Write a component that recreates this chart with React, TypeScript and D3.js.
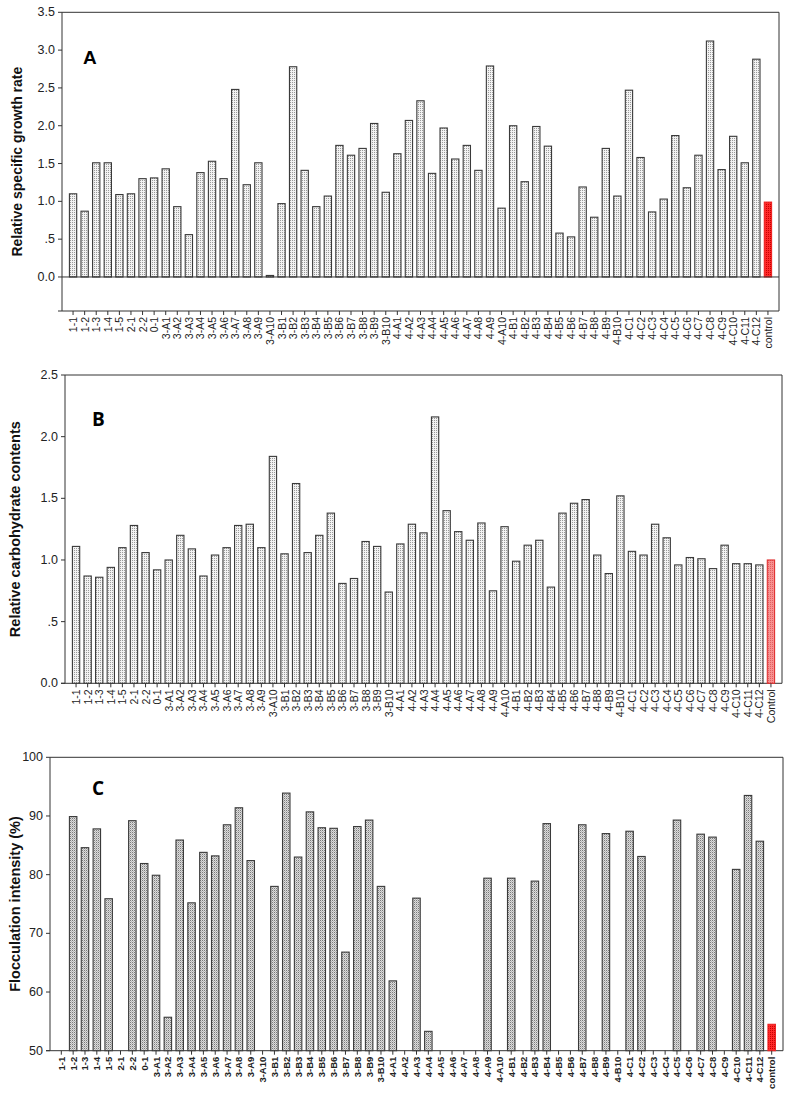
import React from "react";
import * as d3 from "d3";

const strains = [
  "1-1","1-2","1-3","1-4","1-5","2-1","2-2","0-1",
  "3-A1","3-A2","3-A3","3-A4","3-A5","3-A6","3-A7","3-A8","3-A9","3-A10",
  "3-B1","3-B2","3-B3","3-B4","3-B5","3-B6","3-B7","3-B8","3-B9","3-B10",
  "4-A1","4-A2","4-A3","4-A4","4-A5","4-A6","4-A7","4-A8","4-A9","4-A10",
  "4-B1","4-B2","4-B3","4-B4","4-B5","4-B6","4-B7","4-B8","4-B9","4-B10",
  "4-C1","4-C2","4-C3","4-C4","4-C5","4-C6","4-C7","4-C8","4-C9","4-C10","4-C11","4-C12",
];
const categoriesA = [...strains, "control"];
const categoriesB = [...strains, "Control"];
const categoriesC = [...strains, "control"];

const growthRate = [
  1.10,0.87,1.51,1.51,1.09,1.10,1.30,1.31,
  1.43,0.93,0.56,1.38,1.53,1.30,2.48,1.22,1.51,0.02,
  0.97,2.78,1.41,0.93,1.07,1.74,1.61,1.70,2.03,1.12,
  1.63,2.07,2.33,1.37,1.97,1.56,1.74,1.41,2.79,0.91,
  2.00,1.26,1.99,1.73,0.58,0.53,1.19,0.79,1.70,1.07,
  2.47,1.58,0.86,1.03,1.87,1.18,1.61,3.12,1.42,1.86,1.51,2.88,
  0.99,
];

const carbohydrate = [
  1.11,0.87,0.86,0.94,1.10,1.28,1.06,0.92,
  1.00,1.20,1.09,0.87,1.04,1.10,1.28,1.29,1.10,1.84,
  1.05,1.62,1.06,1.20,1.38,0.81,0.85,1.15,1.11,0.74,
  1.13,1.29,1.22,2.16,1.40,1.23,1.16,1.30,0.75,1.27,
  0.99,1.12,1.16,0.78,1.38,1.46,1.49,1.04,0.89,1.52,
  1.07,1.04,1.29,1.18,0.96,1.02,1.01,0.93,1.12,0.97,0.97,0.96,
  1.00,
];

const flocculation: (number | null)[] = [
  null,89.9,84.6,87.8,75.9,null,89.2,81.9,
  79.9,55.7,85.9,75.2,83.8,83.2,88.5,91.4,82.4,null,
  78.0,93.9,83.0,90.7,88.0,87.9,66.8,88.2,89.3,78.0,
  61.9,null,76.0,53.3,null,null,null,null,79.4,null,
  79.4,null,78.9,88.7,null,null,88.5,null,87.0,null,
  87.4,83.1,null,null,89.3,null,86.9,86.4,null,80.9,93.5,85.7,
  54.5,
];

const ticksA = [0, 0.5, 1, 1.5, 2, 2.5, 3, 3.5];
const ticksB = [0, 0.5, 1, 1.5, 2, 2.5];
const ticksC = [50, 60, 70, 80, 90, 100];

const fmt = (v: number) => (v === 0.5 ? ".5" : d3.format(".1f")(v));

type PanelProps = {
  cats: string[];
  values: (number | null)[];
  x0: number; x1: number; yTop: number; yBottom: number;
  domain: [number, number];
  baseline: number;
  ticks: number[];
  tickFmt: (v: number) => string;
  title: string;
  titleX: number;
  titleSize: number;
  letter: string; letterX: number; letterY: number; letterFont: string;
  fill: string; controlFill: string; controlStroke: string;
  boldLabels?: boolean;
  zeroLine?: boolean;
  labelSize: number;
};

function Panel(p: PanelProps) {
  const x = d3.scaleBand<string>().domain(p.cats).range([p.x0, p.x1]).paddingInner(0.37).paddingOuter(0.64);
  const y = d3.scaleLinear().domain(p.domain).range([p.yBottom, p.yTop]);
  const bw = x.bandwidth();
  const n = p.cats.length;
  const axisY = p.yBottom;
  return (
    <g>
      <line x1={p.x0} x2={p.x1} y1={p.yTop} y2={p.yTop} stroke="#333" strokeWidth={1} />
      <line x1={p.x1} x2={p.x1} y1={p.yTop} y2={p.yBottom} stroke="#333" strokeWidth={1} />
      <line x1={p.x0} x2={p.x0} y1={p.yTop} y2={p.yBottom} stroke="#333" strokeWidth={1} />
      <line x1={p.x0 - 4} x2={p.x1} y1={p.yBottom} y2={p.yBottom} stroke="#333" strokeWidth={1} />
      {p.ticks.map((t) => (
        <g key={"t" + t}>
          <line x1={p.x0 - 4} x2={p.x0} y1={y(t)} y2={y(t)} stroke="#333" />
          <text x={p.x0 - 7} y={y(t)} textAnchor="end" dominantBaseline="central" fontSize={12.5} fontFamily="Liberation Sans, Arial, sans-serif" fill="#222">
            {p.tickFmt(t)}
          </text>
        </g>
      ))}
      {p.values.map((v, i) => {
        if (v === null || v === undefined) return null;
        const c = p.cats[i];
        const isCtrl = i === n - 1;
        const yt = y(Math.max(v, p.baseline));
        const yb = y(p.baseline);
        return (
          <rect key={"b" + i} x={x(c)} y={yt} width={bw} height={Math.max(0.5, yb - yt)}
            fill={isCtrl ? p.controlFill : p.fill}
            stroke={isCtrl ? p.controlStroke : "#3a3a3a"} strokeWidth={1.1} />
        );
      })}
      {p.zeroLine && <line x1={p.x0} x2={p.x1} y1={y(0)} y2={y(0)} stroke="#333" strokeWidth={1} />}
      {p.cats.map((c) => {
        const cx = (x(c) as number) + bw / 2;
        return (
          <g key={"x" + c}>
            <line x1={cx} x2={cx} y1={axisY} y2={axisY + 4} stroke="#333" />
            <text transform={`translate(${cx},${axisY + 6}) rotate(-90)`} textAnchor="end" dominantBaseline="central"
              fontSize={p.labelSize} fontWeight={p.boldLabels ? "bold" : "normal"} fontFamily="Liberation Sans, Arial, sans-serif" fill="#222">
              {c}
            </text>
          </g>
        );
      })}
      <text transform={`translate(${p.titleX},${(p.yTop + p.yBottom) / 2}) rotate(-90)`} textAnchor="middle" dominantBaseline="central"
        fontSize={p.titleSize} fontWeight="bold" fontFamily="Liberation Sans, Arial, sans-serif" fill="#111">
        {p.title}
      </text>
      <text x={p.letterX} y={p.letterY} fontSize={19} fontWeight="bold" fontFamily={p.letterFont} fill="#000">
        {p.letter}
      </text>
    </g>
  );
}

export default function App() {
  return (
    <svg width={792} height={1103} style={{ position: "absolute", left: 0, top: 0, background: "#fff" }}>
      <defs>
        <pattern id="dotsA" width={2} height={2} patternUnits="userSpaceOnUse">
          <rect width={2} height={2} fill="#f2f2f2" />
          <rect width={1} height={1} fill="#9a9a9a" />
        </pattern>
        <pattern id="dotsC" width={2} height={2} patternUnits="userSpaceOnUse">
          <rect width={2} height={2} fill="#dcdcdc" />
          <rect width={1} height={1} fill="#7a7a7a" />
          <rect x={1} y={1} width={1} height={1} fill="#b5b5b5" />
        </pattern>
        <pattern id="redA" width={2} height={2} patternUnits="userSpaceOnUse">
          <rect width={2} height={2} fill="#ff2a2a" />
          <rect width={1} height={1} fill="#c80000" />
        </pattern>
        <pattern id="redB" width={2} height={2} patternUnits="userSpaceOnUse">
          <rect width={2} height={2} fill="#f89090" />
          <rect width={1} height={1} fill="#e06060" />
        </pattern>
      </defs>
      <Panel cats={categoriesA} values={growthRate} x0={62} x1={779} yTop={12.3} yBottom={311}
        domain={[-0.45, 3.5]} baseline={0} ticks={ticksA} tickFmt={fmt}
        title="Relative specific growth rate" titleX={17} titleSize={14}
        letter="A" letterX={83} letterY={64} letterFont="Liberation Sans, Arial, sans-serif"
        fill="url(#dotsA)" controlFill="url(#redA)" controlStroke="#ee2222" zeroLine labelSize={10.5} />
      <Panel cats={categoriesB} values={carbohydrate} x0={65} x1={782} yTop={375} yBottom={683.3}
        domain={[0, 2.5]} baseline={0} ticks={ticksB} tickFmt={fmt}
        title="Relative carbohydrate contents" titleX={15} titleSize={14.5}
        letter="B" letterX={92} letterY={426} letterFont="Open Sans, sans-serif"
        fill="url(#dotsA)" controlFill="url(#redB)" controlStroke="#e03030" labelSize={10.5} />
      <Panel cats={categoriesC} values={flocculation} x0={50} x1={783} yTop={757.3} yBottom={1050.7}
        domain={[50, 100]} baseline={50} ticks={ticksC} tickFmt={(v) => String(v)}
        title="Flocculation intensity (%)" titleX={15} titleSize={14.5}
        letter="C" letterX={92} letterY={795} letterFont="Open Sans, sans-serif"
        fill="url(#dotsC)" controlFill="url(#redA)" controlStroke="#ee2222" boldLabels labelSize={9.5} />
    </svg>
  );
}
